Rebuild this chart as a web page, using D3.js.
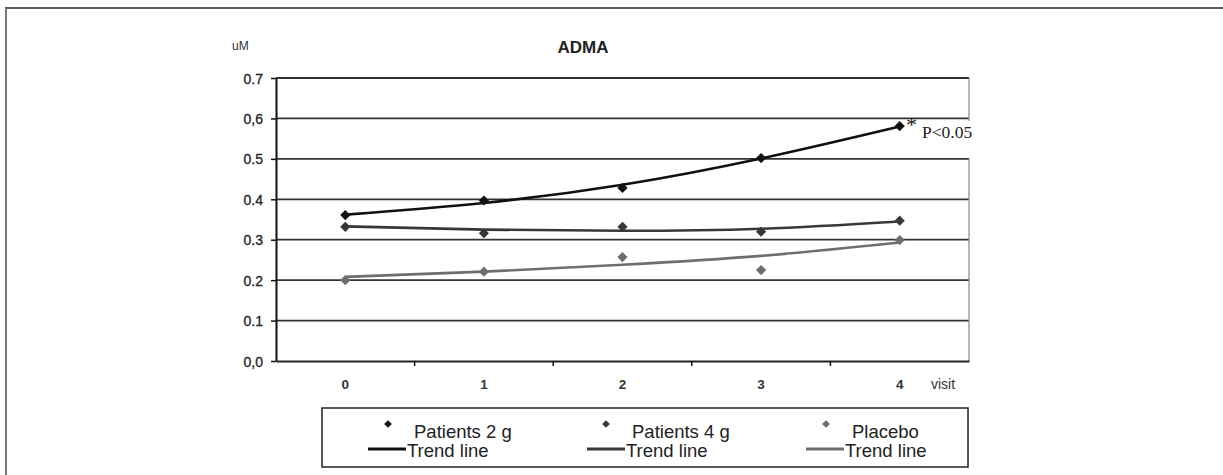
<!DOCTYPE html>
<html>
<head>
<meta charset="utf-8">
<script src="https://cdn.jsdelivr.net/npm/d3@7"></script>
<style>
  html, body { margin: 0; padding: 0; background: #fff; }
  svg { display: block; }
</style>
</head>
<body>
<svg id="chart" width="1223" height="475"></svg>
<script>
const visits = ["0", "1", "2", "3", "4"];
const patients2g = [0.361, 0.397, 0.428, 0.502, 0.581];
const patients4g = [0.332, 0.316, 0.332, 0.320, 0.347];
const placebo    = [0.200, 0.221, 0.257, 0.225, 0.299];
const trend2g      = [0.362, 0.391, 0.436, 0.501, 0.580];
const trend4g      = [0.333, 0.325, 0.322, 0.327, 0.345];
const trendPlacebo = [0.208, 0.221, 0.238, 0.260, 0.293];
const yTicks = [0, 0.1, 0.2, 0.3, 0.4, 0.5, 0.6, 0.7];
const yTickLabels = ["0,0", "0.1", "0.2", "0.3", "0.4", "0.5", "0,6", "0.7"];
const seriesNames = ["Patients 2 g", "Patients 4 g", "Placebo"];
const trendName = "Trend line";

(function () {
const colors = ["#111111", "#383838", "#6e6e6e"];
const sans = "Liberation Sans, Arial, sans-serif";
const serif = "Liberation Serif, Times New Roman, serif";

const svg = d3.select("#chart");

// outer frame (top and left edges)
svg.append("line").attr("x1", 5).attr("x2", 1223).attr("y1", 8).attr("y2", 8)
  .attr("stroke", "#222").attr("stroke-width", 1.5);
svg.append("line").attr("x1", 6).attr("x2", 6).attr("y1", 8).attr("y2", 475)
  .attr("stroke", "#777").attr("stroke-width", 2);

const pL = 276, pR = 969, pT = 78, pB = 361;
const x = d3.scaleBand().domain(visits).range([pL, pR]);
const y = d3.scaleLinear().domain([0, 0.7]).range([pB, pT]);
const cx = v => x(v) + x.bandwidth() / 2;

// gridlines
svg.append("g").selectAll("line").data(yTicks.filter(d => d > 0)).join("line")
  .attr("x1", pL).attr("x2", pR)
  .attr("y1", d => y(d)).attr("y2", d => y(d))
  .attr("stroke", "#333").attr("stroke-width", 1.8);

// right border of plot area
svg.append("line").attr("x1", pR).attr("x2", pR).attr("y1", pT).attr("y2", pB)
  .attr("stroke", "#888").attr("stroke-width", 1.2);

// y axis
const yAxis = d3.axisLeft(y).tickValues(yTicks)
  .tickFormat((d, i) => yTickLabels[i]).tickSize(5).tickSizeOuter(0);
const gy = svg.append("g").attr("transform", `translate(${pL},0)`).call(yAxis);
gy.select(".domain").attr("stroke", "#111").attr("stroke-width", 2);
gy.selectAll(".tick line").attr("stroke", "#111").attr("stroke-width", 1.5);
gy.selectAll(".tick text").attr("x", -13).attr("dy", "0.36em")
  .attr("font-family", sans).attr("font-size", 14).attr("fill", "#222")
  .attr("stroke", "#222").attr("stroke-width", 0.3);

// x axis
const xAxis = d3.axisBottom(x).tickSize(0).tickSizeOuter(0);
const gx = svg.append("g").attr("transform", `translate(0,${pB})`).call(xAxis);
gx.select(".domain").attr("stroke", "#222").attr("stroke-width", 2);
gx.selectAll(".tick text").attr("y", 18).attr("dy", "0.71em")
  .attr("font-family", sans).attr("font-size", 13.5).attr("font-weight", "bold").attr("fill", "#333");
// boundary ticks between categories
svg.append("g").selectAll("line").data(visits.slice(1)).join("line")
  .attr("x1", d => x(d)).attr("x2", d => x(d))
  .attr("y1", pB).attr("y2", pB + 5)
  .attr("stroke", "#111").attr("stroke-width", 1.5);

svg.append("text").attr("x", 931).attr("y", 389)
  .attr("font-family", sans).attr("font-size", 14).attr("fill", "#333").text("visit");

// titles
svg.append("text").attr("x", 232).attr("y", 50)
  .attr("font-family", sans).attr("font-size", 12).attr("fill", "#333").text("uM");
svg.append("text").attr("x", 583).attr("y", 53).attr("text-anchor", "middle")
  .attr("font-family", sans).attr("font-size", 17).attr("font-weight", "bold").attr("fill", "#222").text("ADMA");

// trend lines
const line = d3.line().x((d, i) => cx(visits[i])).y(d => y(d)).curve(d3.curveNatural);
const trends = [trend2g, trend4g, trendPlacebo];
trends.forEach((t, k) => {
  svg.append("path").attr("d", line(t)).attr("fill", "none")
    .attr("stroke", colors[k]).attr("stroke-width", 2.6);
});

// markers (diamonds = squares rotated 45deg)
const diamond = d3.symbol().type(d3.symbolSquare).size(52);
const series = [patients2g, patients4g, placebo];
series.forEach((s, k) => {
  svg.append("g").selectAll("path").data(s).join("path")
    .attr("d", diamond)
    .attr("transform", (d, i) => `translate(${cx(visits[i])},${y(d)}) rotate(45)`)
    .attr("fill", colors[k]);
});

// significance annotation
svg.append("rect").attr("x", 906).attr("y", 121).attr("width", 75).attr("height", 37)
  .attr("fill", "#fff");
svg.append("text").attr("x", 906).attr("y", 132)
  .attr("font-family", serif).attr("font-size", 22).attr("fill", "#222").text("*");
svg.append("text").attr("x", 922).attr("y", 138)
  .attr("font-family", serif).attr("font-size", 17.5).attr("fill", "#222").text("P<0.05");

// legend
svg.append("rect").attr("x", 322).attr("y", 408).attr("width", 646).attr("height", 59)
  .attr("fill", "#fff").attr("stroke", "#222").attr("stroke-width", 1.5);
const legendX = [388, 606, 826];
const lineStart = [368, 587, 806];
seriesNames.forEach((name, k) => {
  svg.append("path").attr("d", d3.symbol().type(d3.symbolSquare).size(30))
    .attr("transform", `translate(${legendX[k]},${424}) rotate(45)`).attr("fill", colors[k]);
  svg.append("text").attr("x", legendX[k] + 26).attr("y", 438)
    .attr("font-family", sans).attr("font-size", 18.5).attr("fill", "#222").text(name);
  svg.append("line").attr("x1", lineStart[k]).attr("x2", lineStart[k] + 38)
    .attr("y1", 449).attr("y2", 449).attr("stroke", colors[k]).attr("stroke-width", 2.8);
  svg.append("text").attr("x", lineStart[k] + 39).attr("y", 457)
    .attr("font-family", sans).attr("font-size", 18.5).attr("fill", "#222").text(trendName);
});
})();
</script>
</body>
</html>
